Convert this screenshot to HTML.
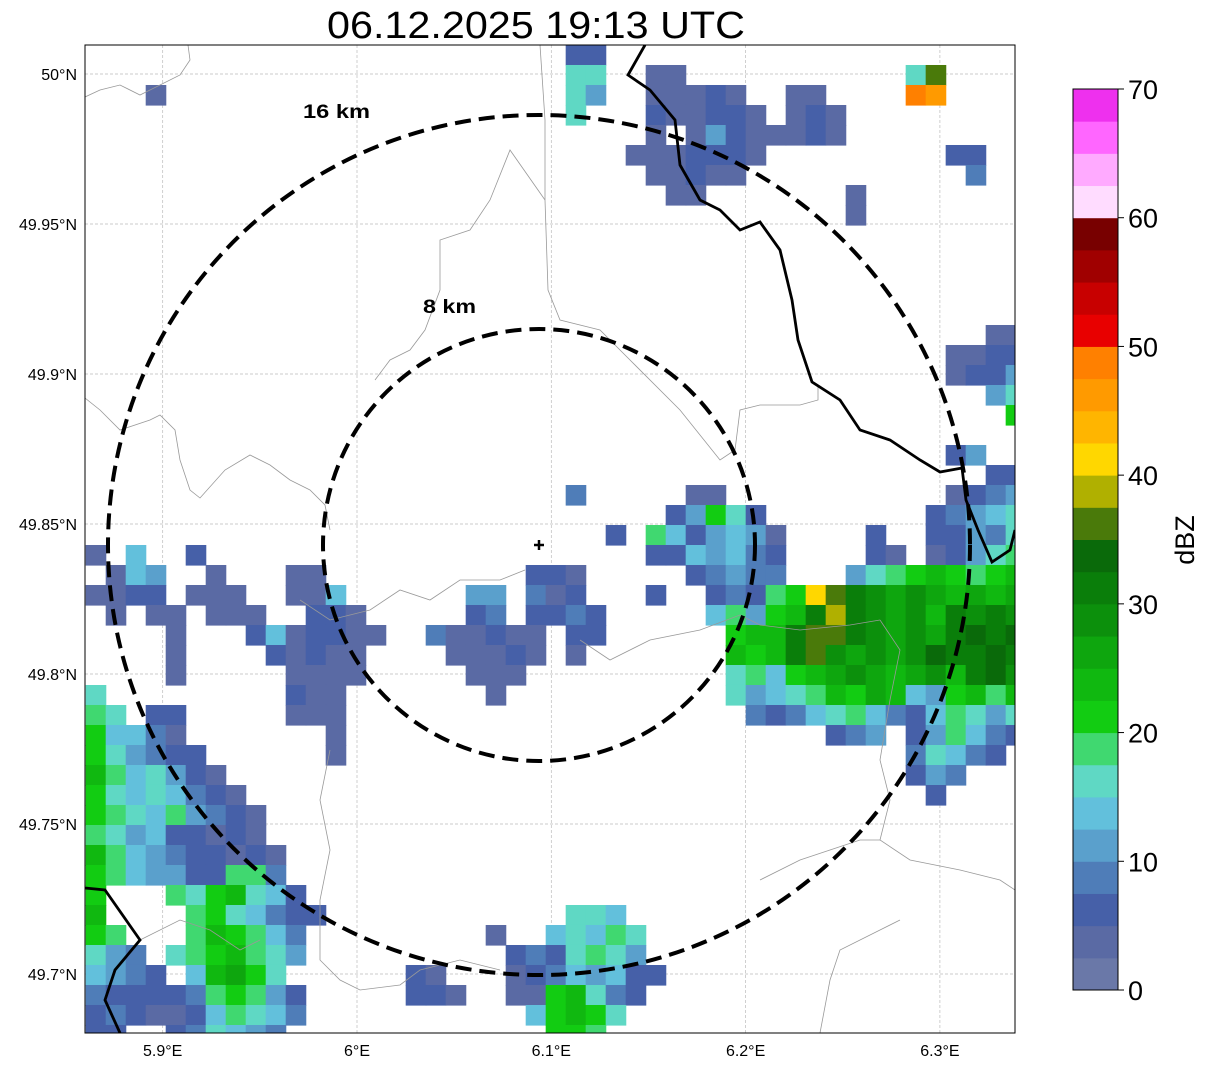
<!DOCTYPE html>
<html><head><meta charset="utf-8">
<style>
html,body{margin:0;padding:0;background:#fff;}
svg{display:block;font-family:"Liberation Sans",sans-serif;}
</style></head>
<body>
<svg id="chart" width="1207" height="1069" viewBox="0 0 1207 1069" xmlns="http://www.w3.org/2000/svg">
<defs><clipPath id="plotclip"><rect x="85" y="45" width="930" height="988"/></clipPath></defs>
<rect width="1207" height="1069" fill="#fff"/>
<text x="536" y="38" text-anchor="middle" font-size="38" textLength="418" lengthAdjust="spacingAndGlyphs">06.12.2025 19:13 UTC</text>
<g id="grid"></g>
<g id="cells" clip-path="url(#plotclip)"></g>
<g clip-path="url(#plotclip)" fill="none">
 <g stroke="#999" stroke-width="0.8">
  <polyline points="85,97 100,90 120,85 140,95 160,85 180,75 190,60 188,45"/>
  <polyline points="85,398 100,410 120,430 150,420 160,415 175,430 180,460 190,490 200,498 225,470 250,455 270,465 290,480 310,490 325,505 330,530"/>
  <polyline points="540,45 545,120 545,200 548,290 560,320 600,330 630,360 680,410 720,460 735,450 740,410 760,405 800,405 818,400 818,385"/>
  <polyline points="545,200 510,150 490,200 470,230 440,240 440,290 425,330 410,350 390,360 375,380"/>
  <polyline points="300,600 330,620 370,610 400,590 430,600 460,580 500,580 525,570"/>
  <polyline points="580,640 610,660 650,640 700,630 740,615 760,625 800,630 850,625 880,620"/>
  <polyline points="880,620 900,650 890,700 880,760 890,800 880,840 910,860 960,870 1000,880 1015,890"/>
  <polyline points="330,750 320,800 330,850 320,900 320,960 340,980 360,990 400,985 420,970 460,960 500,970"/>
  <polyline points="760,880 800,860 830,850 860,840 880,840"/>
  <polyline points="820,1033 830,980 840,950 880,930 900,920"/>
  <polyline points="140,940 180,920 210,930 240,950 260,940"/>
 </g>
 <g stroke="#000" stroke-width="2.8">
  <polyline points="645,45 628,75 650,90 675,120 680,165 700,200 720,210 740,230 760,222 780,250 792,300 798,340 812,382 840,400 860,430 890,440 920,460 940,472 962,468 966,500 978,530 992,562 1010,550 1015,530"/>
  <polyline points="85,888 105,890 140,940 115,970 105,1000 120,1033"/>
 </g>
</g>
<g fill="none" stroke="#000" stroke-width="4" stroke-dasharray="16,8">
 <ellipse cx="539" cy="545" rx="431" ry="430"/>
 <ellipse cx="539" cy="545" rx="216" ry="216"/>
</g>
<text x="303" y="118" font-size="19" font-weight="bold" textLength="67" lengthAdjust="spacingAndGlyphs">16 km</text>
<text x="423" y="313" font-size="19" font-weight="bold" textLength="53" lengthAdjust="spacingAndGlyphs">8 km</text>
<g stroke="#000" stroke-width="2.5"><line x1="534" y1="545" x2="544" y2="545"/><line x1="539" y1="540" x2="539" y2="550"/></g>
<rect x="85" y="45" width="930" height="988" fill="none" stroke="#000" stroke-width="1"/>
<g id="ticks" font-size="16"></g>
<g id="cbar"></g>
<text transform="translate(1194,540) rotate(-90)" text-anchor="middle" font-size="27">dBZ</text>
</svg>
<script>
const lonTicks = [5.9, 6.0, 6.1, 6.2, 6.3];
const lonTickLabels = ["5.9°E", "6°E", "6.1°E", "6.2°E", "6.3°E"];
const latTicks = [50.0, 49.95, 49.9, 49.85, 49.8, 49.75, 49.7];
const latTickLabels = ["50°N", "49.95°N", "49.9°N", "49.85°N", "49.8°N", "49.75°N", "49.7°N"];
const cbarTicks = [0, 10, 20, 30, 40, 50, 60, 70];
const levelColors = ["#6a78a8","#5a6aa4","#4660a8","#4f7db8","#5aa0cc","#62c0dc","#5fd8c4","#40d870","#12cc12","#10b810","#0ea60e","#0c900c","#0a7e0a","#0a6a0a","#4a7a0a","#b0b000","#ffd700","#ffb500","#ff9a00","#ff8000","#e80000","#c80000","#a00000","#780000","#ffdcff","#ffaaff","#ff66ff","#ee30ee"];
const gridLon0 = 5.86037, gridLat0 = 50.00967, gridDLon = 0.010293, gridDLat = 0.0066667;
const radarRows = [
"24:2 25:2",
"24:6 25:6 28:1 29:1 41:6 42:e",
"3:1 24:6 25:4 28:1 29:1 30:1 31:2 32:1 35:1 36:1 41:j 42:i",
"24:6 28:2 29:1 30:1 31:2 32:2 33:1 35:1 36:2 37:1",
"28:1 30:1 31:4 32:2 33:1 34:1 35:1 36:2 37:1",
"27:1 28:1 29:1 30:2 31:2 32:2 33:1 43:2 44:2",
"28:1 29:1 30:2 31:1 32:1 44:3",
"29:1 30:1 38:1",
"38:1",
"","","","","",
"45:1 46:1",
"43:1 44:1 45:2 46:2",
"43:1 44:2 45:2 46:4",
"45:4 46:6",
"46:8",
"",
"43:2 44:4",
"45:2 46:2",
"24:3 30:1 31:1 43:1 44:2 45:3 46:4",
"29:2 30:4 31:8 32:6 33:2 42:2 43:3 44:4 45:5 46:6",
"26:2 28:7 29:5 30:2 31:4 32:5 33:4 34:1 39:2 42:2 43:2 44:4 45:3 46:6",
"0:1 2:5 5:2 28:2 29:2 30:5 31:4 32:5 33:3 34:2 39:2 40:1 42:1 43:2 44:4 45:6 46:7",
"1:1 2:5 3:4 6:1 10:1 11:1 22:2 23:2 24:1 30:2 31:3 32:4 33:3 34:3 38:4 39:6 40:7 41:8 42:9 43:8 44:7 45:8 46:9",
"0:1 1:1 2:2 3:2 5:1 6:1 7:1 10:1 11:1 12:5 19:4 20:4 22:3 23:1 24:2 28:2 31:2 32:3 33:2 34:7 35:8 36:g 37:e 38:c 39:b 40:a 41:b 42:a 43:9 44:a 45:9 46:a",
"1:1 3:1 4:1 6:1 7:1 8:1 11:2 12:2 13:1 19:2 20:3 22:2 23:2 24:3 25:2 31:5 32:7 33:4 34:8 35:9 36:c 37:f 38:c 39:b 40:a 41:b 42:9 43:c 44:b 45:c 46:b",
"4:1 8:2 9:5 10:1 11:2 12:2 13:1 14:1 17:3 18:1 19:1 20:2 21:1 22:1 24:2 25:2 32:8 33:9 34:9 35:c 36:e 37:e 38:c 39:b 40:a 41:b 42:a 43:c 44:d 45:c 46:d",
"4:1 9:2 10:1 11:2 12:1 13:1 18:1 19:1 20:1 21:2 22:1 24:1 32:9 33:8 34:9 35:c 36:e 37:b 38:a 39:b 40:a 41:b 42:d 43:c 44:c 45:d 46:c",
"4:1 10:1 11:1 12:1 13:1 19:1 20:1 21:1 32:6 33:7 34:5 35:8 36:9 37:a 38:b 39:a 40:9 41:a 42:b 43:9 44:c 45:d 46:b",
"0:6 10:2 11:1 12:1 20:1 32:6 33:4 34:5 35:6 36:7 37:9 38:8 39:a 40:9 41:5 42:4 43:8 44:9 45:7 46:9",
"0:7 1:6 3:2 4:2 10:1 11:1 12:1 33:3 34:2 35:3 36:5 37:6 38:7 39:5 40:3 41:2 42:5 43:7 44:6 45:4 46:6",
"0:8 1:5 2:5 3:3 4:1 12:1 37:2 38:3 39:4 41:2 42:4 43:7 44:5 45:3 46:2",
"0:8 1:6 2:4 3:3 4:2 5:2 12:1 41:3 42:6 43:5 44:3 45:2",
"0:9 1:7 2:5 3:6 4:4 5:2 6:1 41:2 42:4 43:3",
"0:8 1:6 2:5 3:6 4:5 5:3 6:2 7:1 42:2",
"0:8 1:7 2:6 3:5 4:7 5:4 6:3 7:2 8:1",
"0:7 1:6 2:4 3:5 4:2 5:2 6:1 7:2 8:1",
"0:9 1:7 2:5 3:4 4:3 5:2 6:2 7:1 8:2 9:1",
"0:8 1:7 2:5 3:4 4:4 5:2 6:2 7:7 8:7 9:3",
"0:8 4:7 5:6 6:8 7:9 8:6 9:5 10:2",
"0:9 5:7 6:8 7:6 8:5 9:3 10:2 11:2 24:6 25:6 26:5",
"0:8 1:7 5:7 6:9 7:8 8:7 9:5 10:3 20:1 23:5 24:6 25:5 26:7 27:6",
"0:6 1:4 2:3 4:6 5:7 6:8 7:9 8:7 9:6 10:4 21:2 22:3 23:2 24:6 25:7 26:6 27:4",
"0:5 1:4 2:3 3:2 5:5 6:9 7:a 8:8 9:6 16:2 17:1 21:1 22:2 23:3 24:5 25:4 26:5 27:2 28:2",
"0:3 1:2 2:2 3:2 4:2 5:3 6:7 7:8 8:7 9:4 10:2 16:2 17:2 18:1 21:1 22:1 23:8 24:9 25:6 26:3 27:2",
"0:2 1:3 2:2 3:1 4:1 5:2 6:5 7:7 8:6 9:5 10:3 22:5 23:8 24:9 25:8 26:6",
"0:2 1:2 4:2 5:3 6:6 7:5 8:4 9:3 23:8 24:8 25:7"
];
const NS = "http://www.w3.org/2000/svg";
function xOf(lon){ return 357 + (lon - 6.0) * 1943; }
function yOf(lat){ return 74 + (50.0 - lat) * 3000; }
function cbY(dbz){ return 990 - dbz * (901 / 70); }
function colorFor(dbz){ let i = Math.floor(dbz / 2.5); if (i < 0) i = 0; if (i > 27) i = 27; return levelColors[i]; }
function mk(tag, attrs, parent){ const e = document.createElementNS(NS, tag); for (const k in attrs) e.setAttribute(k, attrs[k]); parent.appendChild(e); return e; }

const grid = document.getElementById('grid');
lonTicks.forEach(function(lon){
  const l = mk('line', {x1: xOf(lon), x2: xOf(lon), y1: 45, y2: 1033, stroke: '#bbb', 'stroke-width': 0.7, 'stroke-dasharray': '3,2'}, grid);
  
  
});
latTicks.forEach(function(lat){
  const l = mk('line', {x1: 85, x2: 1015, y1: yOf(lat), y2: yOf(lat), stroke: '#bbb', 'stroke-width': 0.7, 'stroke-dasharray': '3,2'}, grid);
  
  
});

const cells = document.getElementById('cells');
radarRows.forEach(function(row, r){
  if (!row) return;
  row.split(' ').forEach(function(tok){
    const parts = tok.split(':');
    const c = parseInt(parts[0], 10);
    const band = parseInt(parts[1], 36);
    const dbz = band * 2.5 + 1.25;
    const lonA = gridLon0 + c * gridDLon, lonB = lonA + gridDLon;
    const latA = gridLat0 - r * gridDLat, latB = latA - gridDLat;
    const x = xOf(lonA), y = yOf(latA);
    const rc = mk('rect', {x: x, y: y, width: xOf(lonB) - x + 0.6, height: yOf(latB) - y + 0.6, fill: colorFor(dbz)}, cells);
    
    
  });
});

const ticks = document.getElementById('ticks');
lonTicks.forEach(function(lon, i){
  const t = mk('text', {x: xOf(lon), y: 1056, 'text-anchor': 'middle'}, ticks);
  t.textContent = lonTickLabels[i];
  
  
});
latTicks.forEach(function(lat, i){
  const t = mk('text', {x: 77, y: yOf(lat) + 6, 'text-anchor': 'end'}, ticks);
  t.textContent = latTickLabels[i];
  
  
});

const cbar = document.getElementById('cbar');
levelColors.forEach(function(col, i){
  const y1 = cbY((i + 1) * 2.5), y0 = cbY(i * 2.5);
  const b = mk('rect', {x: 1073, y: y1, width: 45, height: y0 - y1 + 0.5, fill: col}, cbar);
  
  
});
const fr = mk('rect', {x: 1073, y: cbY(70), width: 45, height: cbY(0) - cbY(70), fill: 'none', stroke: '#000', 'stroke-width': 1}, cbar);


cbarTicks.forEach(function(v){
  const tl = mk('line', {x1: 1118, x2: 1124, y1: cbY(v), y2: cbY(v), stroke: '#000', 'stroke-width': 1}, cbar);
  
  
  const t = mk('text', {x: 1128, y: cbY(v) + 10, 'font-size': 27}, cbar);
  t.textContent = String(v);
  
  
});
</script>
</body></html>
